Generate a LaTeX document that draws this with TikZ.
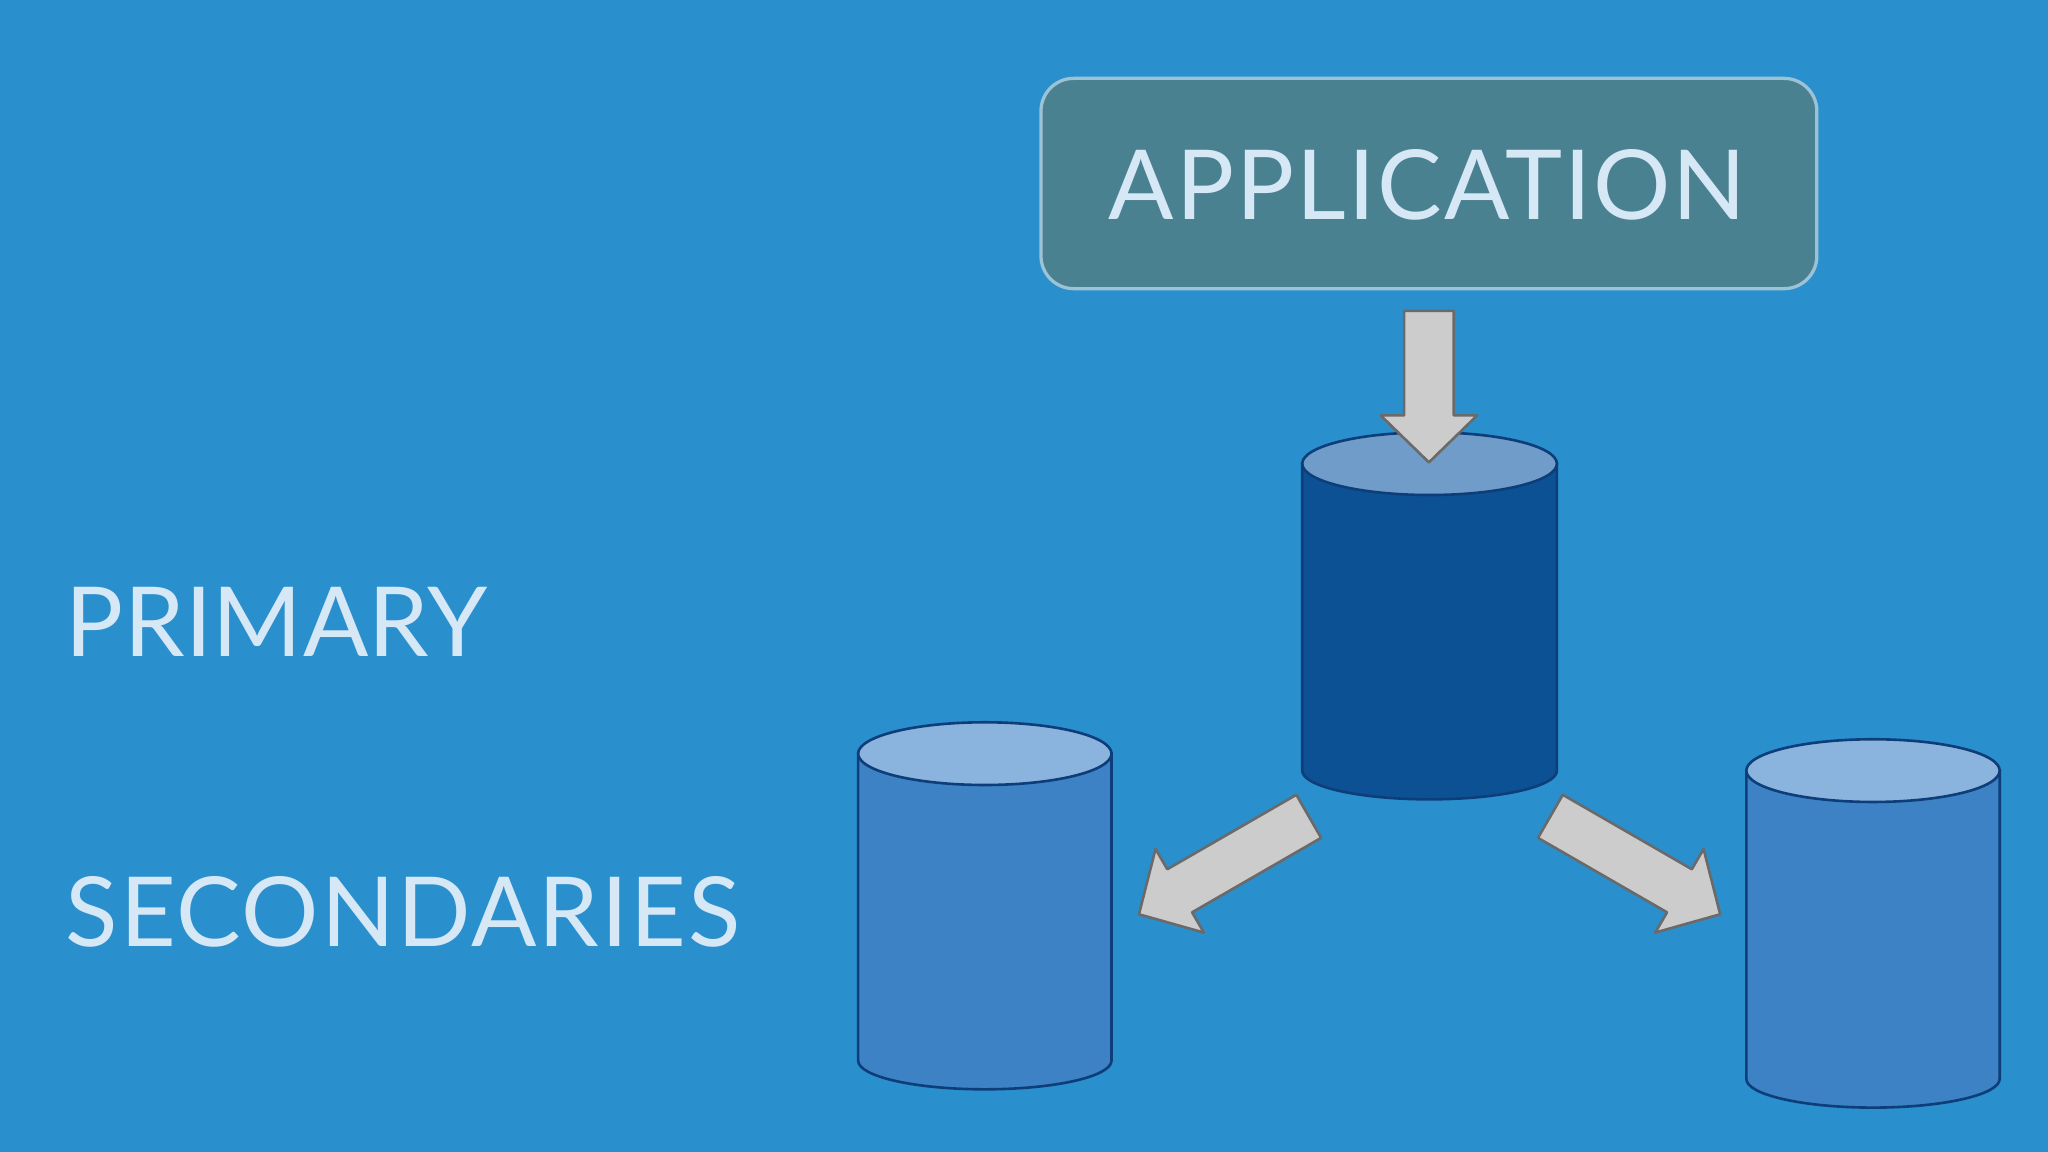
\documentclass[tikz,border=0pt]{standalone}
\usepackage{fontspec}
\setmainfont[LetterSpace=2.2]{Lato}
\begin{document}
\definecolor{bg}{HTML}{2A8FCD}
\definecolor{appfill}{HTML}{4A8190}
\definecolor{appedge}{HTML}{9CC3D5}
\definecolor{txt}{HTML}{D6E7F6}
\definecolor{pbody}{HTML}{0D5195}
\definecolor{ptop}{HTML}{6F9CC8}
\definecolor{sbody}{HTML}{3D82C5}
\definecolor{stop}{HTML}{8AB4DE}
\definecolor{cedge}{HTML}{0D3E7A}
\definecolor{arrfill}{HTML}{CCCCCC}
\definecolor{arredge}{HTML}{6A6A6A}
\begin{tikzpicture}[x=1pt,y=-1pt,
  lbl/.style={text=txt,font=\fontsize{74}{74}\selectfont,inner sep=0pt},
  arr/.style={fill=arrfill,draw=arredge,line width=2pt,line join=round},
  cyl/.style={draw=cedge,line width=2pt}]
\fill[bg] (0,0) rectangle (1568,882);
\useasboundingbox (0,0) rectangle (1568,882);
\node[draw=appedge,fill=appfill,line width=2.5pt,rounded corners=25pt,minimum width=594pt,minimum height=161pt,inner sep=0pt] (app) at (1094,140.5) {};
\node[lbl,anchor=base] (apptext) at (1093,168) {APPLICATION};
\node[lbl,anchor=base west] (primary) at (50,503) {\addfontfeature{LetterSpace=0.5}PRIMARY};
\node[lbl,anchor=base west] (sec) at (50,725) {SECONDARIES};
\newcommand\mycyl[6]{%
  \path[cyl,fill=#5] (#1-#4,#2) -- (#1-#4,#3) arc[start angle=180,end angle=0,x radius=#4,y radius=22] -- (#1+#4,#2) -- cycle;
  \path[cyl,fill=#6] (#1,#2) ellipse[x radius=#4,y radius=24];}
\mycyl{1094.5}{355}{590}{97.5}{pbody}{ptop}
\mycyl{754}{577}{812}{97}{sbody}{stop}
\mycyl{1434}{590}{826}{97}{sbody}{stop}
\draw[arr] (1075,238) -- (1113,238) -- (1113,318) -- (1131,318) -- (1094,354) -- (1057,318) -- (1075,318) -- cycle;
\draw[arr] (1011.5,641.5) -- (992.5,608.5) -- (893.7,665.5) -- (884.7,650) -- (872,700) -- (921.7,714) -- (912.7,698.5) -- cycle;
\draw[arr] (1177.5,641.5) -- (1196.5,608.5) -- (1295.3,665.5) -- (1304.3,650) -- (1317,700) -- (1267.3,714) -- (1276.3,698.5) -- cycle;
\end{tikzpicture}
\end{document}
